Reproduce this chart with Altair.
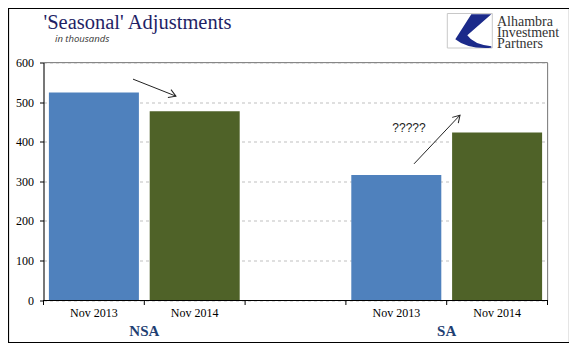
import altair as alt
import pandas as pd

# ---------------- data ----------------
groups = ["NSA", "NSA", "SA", "SA"]
periods = ["Nov 2013", "Nov 2014", "Nov 2013", "Nov 2014"]
values = [524, 477, 316, 423]
slot_domain = ["NSA Nov 2013", "NSA Nov 2014", "gap", "SA Nov 2013", "SA Nov 2014"]
group_names = ["NSA", "SA"]
group_anchor = ["NSA Nov 2014", "SA Nov 2014"]
period_colors = ["#4F81BD", "#4F6228"]
y_ticks = [0, 100, 200, 300, 400, 500, 600]
tick_pos = [0, 1, 2, 3, 4, 5]

# annotation arrows (x in slot units, y in data units)
arrow_x = [0.888, 3.676]
arrow_x2 = [1.314, 4.132]
arrow_y = [558, 344]
arrow_y2 = [515, 467]
arrow_angle = [21.6, 313.2]
q_text = ["?????"]
q_x = [3.626]
q_y = [434]

title_text = "'Seasonal' Adjustments"
subtitle_text = "in thousands"
logo_lines = ["Alhambra", "Investment", "Partners"]

W, H = 504, 237.5
SERIF = "Liberation Serif"

bars_df = pd.DataFrame({
    "group": groups,
    "period": periods,
    "value": values,
    "slot": [f"{g} {p}" for g, p in zip(groups, periods)],
})
grp_df = pd.DataFrame({"group": group_names, "anchor": group_anchor})
ticks_df = pd.DataFrame({"pos": tick_pos})
arrows_df = pd.DataFrame({"x": arrow_x, "x2": arrow_x2, "y": arrow_y, "y2": arrow_y2, "ang": arrow_angle})
q_df = pd.DataFrame({"t": q_text, "x": q_x, "y": q_y})

xband = alt.Scale(domain=slot_domain, paddingInner=0, paddingOuter=0)
yscale = alt.Scale(domain=[0, 600], nice=False, zero=True)
xq = alt.Scale(domain=[0, 5], nice=False, zero=False)

y_axis = alt.Axis(values=y_ticks, tickCount=7, labelOverlap=False, grid=True, gridDash=[3, 3],
                  gridColor="#BFBFBF", labelFont=SERIF, labelFontSize=12, labelColor="black",
                  tickSize=4, tickColor="black", domainColor="black",
                  labelPadding=6, title=None)
x_axis = alt.Axis(labels=False, ticks=False, domainColor="black", title=None,
                  grid=False, zindex=1)

bars = alt.Chart(bars_df).mark_bar(size=90).encode(
    x=alt.X("slot:N", scale=xband, axis=x_axis),
    y=alt.Y("value:Q", scale=yscale, axis=y_axis),
    color=alt.Color("period:N", scale=alt.Scale(domain=["Nov 2013", "Nov 2014"], range=period_colors), legend=None),
)

cat_labels = alt.Chart(bars_df).mark_text(font=SERIF, fontSize=12, color="black", baseline="alphabetic").encode(
    x=alt.X("slot:N", scale=xband, axis=x_axis),
    y=alt.value(H + 17),
    text="period:N",
)

grp_labels = alt.Chart(grp_df).mark_text(font=SERIF, fontSize=15, fontWeight="bold", color="#1F3F73",
                                         baseline="alphabetic").encode(
    x=alt.X("anchor:N", scale=xband, bandPosition=0, axis=x_axis),
    y=alt.value(H + 36),
    text="group:N",
)

main = alt.layer(bars, cat_labels, grp_labels)

ticks = alt.Chart(ticks_df).mark_rule(color="black", strokeWidth=1).encode(
    x=alt.X("pos:Q", scale=xq, axis=None),
    y=alt.value(H),
    y2=alt.value(H + 5),
)
arrows = alt.Chart(arrows_df).mark_rule(color="#222222", strokeWidth=1).encode(
    x=alt.X("x:Q", scale=xq, axis=None),
    x2="x2:Q",
    y=alt.Y("y:Q", scale=yscale, axis=y_axis),
    y2="y2:Q",
)
heads = alt.Chart(arrows_df).mark_point(
    shape="M -1 -0.6 L 0 0 L -1 0.6", filled=False, size=196, strokeWidth=1, color="#222222", opacity=1
).encode(
    x=alt.X("x2:Q", scale=xq, axis=None),
    y=alt.Y("y2:Q", scale=yscale, axis=y_axis),
    angle=alt.Angle("ang:Q", scale=None),
)
qmark = alt.Chart(q_df).mark_text(font="Liberation Sans", fontSize=12, color="#222222").encode(
    x=alt.X("x:Q", scale=xq, axis=None),
    y=alt.Y("y:Q", scale=yscale, axis=y_axis),
    text="t:N",
)
annot = alt.layer(ticks, arrows, heads, qmark)

# decorations
one = pd.DataFrame({"k": [0]})
frame_top = alt.Chart(one).mark_rule(color="#868686", strokeWidth=1).encode(
    x=alt.value(0), x2=alt.value(W), y=alt.value(0))
frame_right = alt.Chart(one).mark_rule(color="#868686", strokeWidth=1).encode(
    x=alt.value(W), y=alt.value(0), y2=alt.value(H))
border = alt.Chart(one).mark_rect(fill=None, stroke="black", strokeWidth=1.2).encode(
    x=alt.value(-35), x2=alt.value(526), y=alt.value(-54), y2=alt.value(280))

title = alt.Chart(pd.DataFrame({"t": [title_text]})).mark_text(
    font=SERIF, fontSize=20.5, color="#1F1F66", align="left", baseline="alphabetic").encode(
    x=alt.value(0), y=alt.value(-33.5), text="t:N")
subtitle = alt.Chart(pd.DataFrame({"t": [subtitle_text]})).mark_text(
    font="Open Sans", fontSize=9.5, fontStyle="italic", color="#333333", align="left", baseline="alphabetic").encode(
    x=alt.value(11.5), y=alt.value(-21), text="t:N")

logo_box = alt.Chart(one).mark_rect(fill="white", stroke="#C8C8C8", strokeWidth=1).encode(
    x=alt.value(403.8), x2=alt.value(448.8), y=alt.value(-49), y2=alt.value(-14.5))
logo_path = ("M 0.067 -0.733 L 0.956 -0.733 L -0.111 0.2 "
             "Q 0.156 0.6 0.956 0.689 L 0.956 0.756 Q -0.111 0.822 -0.644 0.378 Z")
logo_mark = alt.Chart(one).mark_point(shape=logo_path, filled=True, fill="#1B2A8A", size=2025,
                                       strokeWidth=0, opacity=1).encode(
    x=alt.value(426.3), y=alt.value(-31.8))
logo_text = alt.Chart(pd.DataFrame({"t": ["\n".join(logo_lines)]})).mark_text(
    font=SERIF, fontSize=14, lineHeight=11.3, lineBreak="\n", color="#333333", align="left",
    baseline="alphabetic").encode(
    x=alt.value(453.5), y=alt.value(-36.8), text="t:N")

deco = alt.layer(frame_top, frame_right, border, title, subtitle, logo_box, logo_mark, logo_text)

chart = alt.layer(main, annot, deco).resolve_scale(x="independent").properties(
    width=W, height=H,
    autosize=alt.AutoSizeParams(type="none"),
    padding={"left": 35.5, "top": 54.5, "right": 21.5, "bottom": 50},
).configure_view(stroke=None).configure(background="white")

chart.save("out.html", embed_options={"renderer": "svg", "actions": False})
